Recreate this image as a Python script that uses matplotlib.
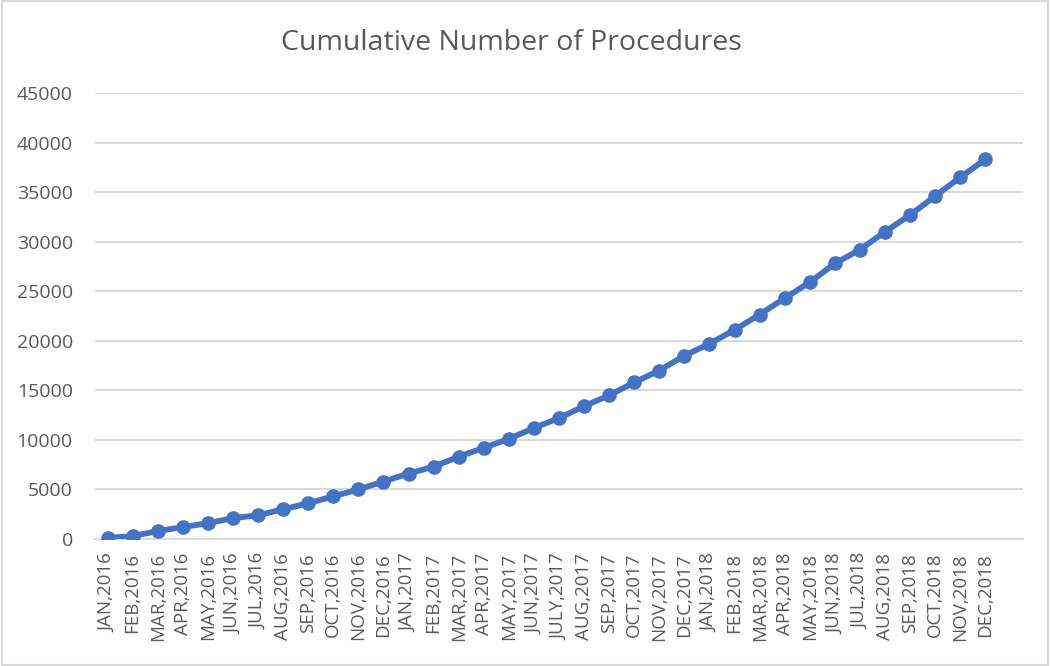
import matplotlib
matplotlib.use("Agg")
import matplotlib.pyplot as plt
from matplotlib.patches import Rectangle

months = ["JAN", "FEB", "MAR", "APR", "MAY", "JUN", "JUL", "AUG", "SEP", "OCT", "NOV", "DEC"]
months_2017 = ["JAN", "FEB", "MAR", "APR", "MAY", "JUN", "JULY", "AUG", "SEP", "OCT", "NOV", "DEC"]
labels = ([f"{m},2016" for m in months]
          + [f"{m},2017" for m in months_2017]
          + [f"{m},2018" for m in months])

procedures = [100, 300, 800, 1200, 1600, 2100, 2400, 3000, 3600, 4300, 5000, 5800,
              6600, 7300, 8300, 9200, 10100, 11200, 12200, 13400, 14500, 15800, 17000, 18500,
              19700, 21100, 22650, 24300, 25900, 27800, 29200, 31000, 32700, 34600, 36500, 38300]

plt.rcParams["font.family"] = ["Open Sans", "DejaVu Sans"]
text_color = "#595959"
grid_color = "#D9D9D9"

fig = plt.figure(figsize=(10.5, 6.66), dpi=100)
ax = fig.add_axes([95 / 1050, 1 - 539 / 666, 928 / 1050, 446 / 666])

x = list(range(len(labels)))
ax.plot(x, procedures, color="#4472C4", linewidth=4.2, marker="o", markersize=9.5, zorder=3)

ax.set_ylim(0, 45000)
ax.set_yticks(range(0, 45001, 5000))
ax.set_xlim(-0.5, len(labels) + 0.5)
ax.set_xticks(x)
ax.set_xticklabels(labels, rotation=90)
ax.grid(axis="y", color=grid_color, linewidth=1.4)
ax.set_axisbelow(True)
for side in ["top", "right", "left"]:
    ax.spines[side].set_visible(False)
ax.spines["bottom"].set_color(grid_color)
ax.spines["bottom"].set_linewidth(1.4)
ax.tick_params(axis="y", length=0, labelsize=14, colors=text_color, pad=16)
ax.tick_params(axis="x", length=0, labelsize=13.5, colors=text_color, pad=10)

fig.text(511 / 1050, 1 - 43 / 666, "Cumulative Number of Procedures",
         ha="center", va="center", fontsize=20.5, color=text_color)

fig.patches.append(Rectangle((0.002, 0.002), 0.996, 0.996, transform=fig.transFigure,
                             fill=False, edgecolor=grid_color, linewidth=1.5))

fig.savefig("out.png", dpi=100)
